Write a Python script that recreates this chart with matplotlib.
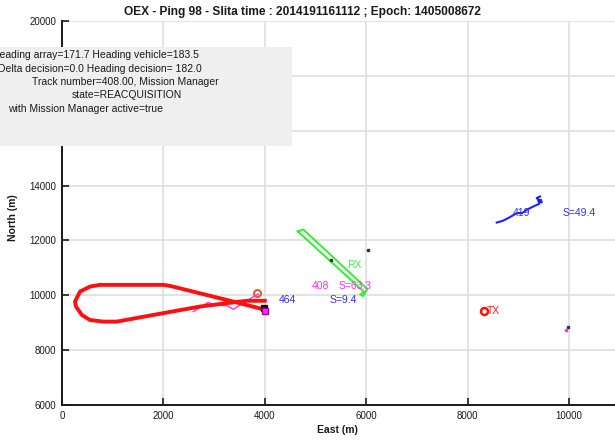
import matplotlib
matplotlib.use("Agg")
import matplotlib.pyplot as plt
from matplotlib.patches import Rectangle

plt.rcParams['font.family'] = ['Liberation Sans', 'DejaVu Sans']

# Vehicle trajectory (thick red loop)
track_x = [4000, 3640, 2720, 2000, 1080, 815, 550, 390, 276, 256, 355, 552, 750,
           2000, 2130, 3380, 3970]
track_y = [9800, 9800, 9590, 9350, 9040, 9040, 9100, 9285, 9590, 9770, 10135,
           10318, 10380, 10380, 10343, 9770, 9490]

# Track 408 history (magenta)
t408_x = [2590, 2886, 2985, 3248, 3380, 3774, 3872]
t408_y = [9405, 9745, 9650, 9625, 9493, 9952, 10050]

# Track 419 history (blue)
t419_x = [8574, 8700, 8836, 8968, 9080, 9165, 9296, 9414, 9394, 9448, 9461, 9363, 9428]
t419_y = [12653, 12720, 12850, 12996, 13000, 13117, 13237, 13336, 13456, 13482, 13383, 13544, 13602]

# Receiver heading outline (green)
rx_x = [4650, 5960, 5880, 5940, 6020, 4760, 4650]
rx_y = [12330, 10120, 10030, 9970, 10230, 12400, 12330]

# Isolated contacts
dots_x = [5306, 6043, 9975]
dots_y = [11290, 11657, 8858]
mag_dot = (9935, 8737)
vehicle_pos = (3980, 9520)
vehicle_pos2 = (4010, 9440)
orange_pos = (3840, 10077)
tx_pos = (8320, 9440)

# Track labels: (x, y, text, colour)
labels = [
    (4280, 9830, "464", "#3030ff"),
    (5286, 9830, "S=9.4", "#3030ff"),
    (4931, 10343, "408", "#ff30ff"),
    (5464, 10343, "S=63.3", "#ff30ff"),
    (5621, 11110, "RX", "#44ee44"),
    (8383, 9440, "TX", "#ff2020"),
    (8895, 13007, "419", "#3030ff"),
    (9882, 13007, "S=49.4", "#3030ff"),
]

info_lines = [
    "Heading array=171.7 Heading vehicle=183.5",
    "Delta decision=0.0 Heading decision= 182.0",
    "Track number=408.00, Mission Manager",
    "state=REACQUISITION",
    "with Mission Manager active=true",
]

W, H = 615, 440
fig = plt.figure(figsize=(W / 100, H / 100), dpi=100)
ax = fig.add_axes([62 / W, 35 / H, 608.4 / W, 384 / H])
ax.set_xlim(0, 12000)
ax.set_ylim(6000, 20000)
ax.set_xticks(range(0, 12001, 2000))
ax.set_yticks(range(6000, 20001, 2000))
ax.set_xticklabels(["0", "2000", "4000", "6000", "8000", "10000", ""])
ax.grid(True, color="#dedede", linewidth=1.2)
ax.set_axisbelow(True)
for s in ("top", "right"):
    ax.spines[s].set_visible(False)
for s in ("left", "bottom"):
    ax.spines[s].set_linewidth(1.4)
    ax.spines[s].set_color("#1a1a1a")
ax.tick_params(direction="in", length=5, width=1.2, labelsize=7, pad=4,
               colors="#1a1a1a")

ax.plot(t408_x, t408_y, color="#ff30ff", linewidth=1.0, zorder=3)
ax.plot(track_x, track_y, color="#ff1010", linewidth=2.8, zorder=4,
        solid_joinstyle="round")
ax.plot(rx_x, rx_y, color="#33ee33", linewidth=1.4, zorder=3)
ax.plot(t419_x, t419_y, color="#2020ff", linewidth=1.5, zorder=3)
ax.plot(dots_x, dots_y, linestyle="none", marker="s", markersize=1.6,
        color="#333333", zorder=5)
ax.plot(*mag_dot, marker="s", markersize=1.8, color="#ff30ff", zorder=5)
ax.plot(*vehicle_pos, marker="s", markersize=5, color="#111111", zorder=6)
ax.plot(*vehicle_pos2, marker="s", markersize=4, markerfacecolor="#ff30ff",
        markeredgecolor="#aa00aa", zorder=6)
ax.plot(*orange_pos, marker="o", markersize=5, markerfacecolor="none",
        markeredgecolor="#e0602a", markeredgewidth=1.5, zorder=6)
ax.plot(*tx_pos, marker="o", markersize=5, markerfacecolor="none",
        markeredgecolor="#ff1010", markeredgewidth=1.8, zorder=6)

for x, y, txt, col in labels:
    ax.text(x, y, txt, color=col, fontsize=7.5, ha="left", va="center", zorder=7)

fig.text(302 / W, 1 - 12 / H, "OEX - Ping 98 - Slita time : 2014191161112 ; Epoch: 1405008672",
         ha="center", va="center", fontsize=8.6, fontweight="bold", color="#1a1a1a")
fig.text(337 / W, 1 - 430 / H, "East (m)", ha="center", va="center",
         fontsize=7.5, fontweight="bold", color="#1a1a1a")
fig.text(13 / W, 1 - 218 / H, "North (m)", ha="center", va="center",
         rotation=90, fontsize=7.5, fontweight="bold", color="#1a1a1a")

# Status box
fig.patches.append(Rectangle((0, 1 - 146 / H), 292 / W, 99 / H,
                             transform=fig.transFigure, facecolor="#efefef",
                             edgecolor="none", zorder=10))
line_y = [55, 68.5, 82, 95.5, 109]
anchors = [(199, "right"), (202, "right"), (32, "left"), (72, "left"), (8, "left")]
for txt, yy, (xx, ha) in zip(info_lines, line_y, anchors):
    fig.text(xx / W, 1 - yy / H, txt, ha=ha, va="center", fontsize=7.5,
             color="#1a1a1a", zorder=11)

fig.savefig("out.png", dpi=100)
